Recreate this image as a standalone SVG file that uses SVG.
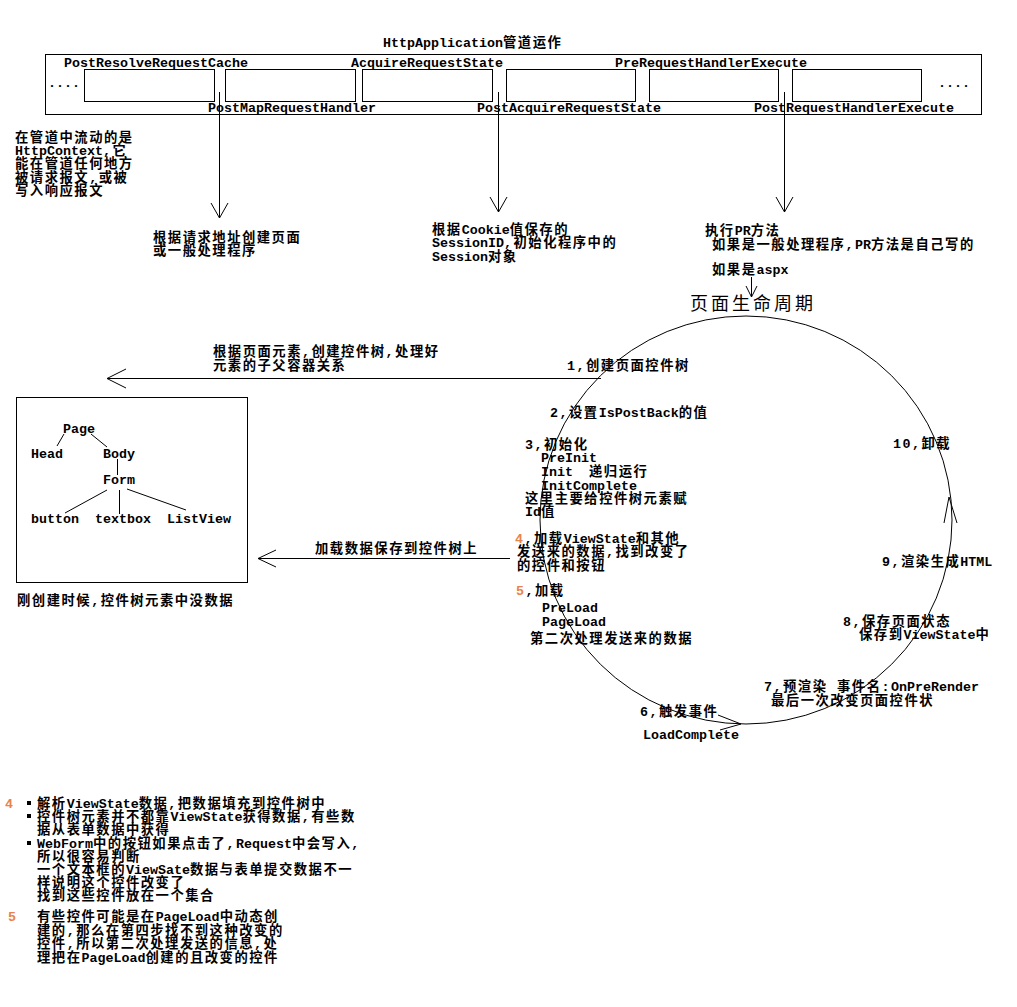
<svg xmlns="http://www.w3.org/2000/svg" width="1017" height="1007" viewBox="0 0 1017 1007">
<style>
.t{font-family:"Liberation Mono","Noto Sans CJK SC",monospace;font-size:13.33px;font-weight:bold;letter-spacing:1.5px;fill:#000}
.l{letter-spacing:0}
.o{fill:#e8834a}
.big{font-family:"Noto Sans CJK SC",sans-serif;font-size:18px;font-weight:normal;fill:#000}
.ln{stroke:#000;stroke-width:1;fill:none}
.box{stroke:#000;stroke-width:1;fill:#fff}
</style>
<rect width="1017" height="1007" fill="#fff"/>

<g id="pipeline">
<text class="t" x="383" y="47"><tspan class="l">HttpApplication</tspan>管道运作</text>
<rect class="box" x="45.5" y="54.5" width="936" height="60"/>
<g id="evt1"><rect class="box" x="84.5" y="69.5" width="130" height="32"/></g>
<g id="evt2"><rect class="box" x="225.5" y="69.5" width="130" height="32"/></g>
<g id="evt3"><rect class="box" x="362.5" y="69.5" width="130" height="32"/></g>
<g id="evt4"><rect class="box" x="506.5" y="69.5" width="129" height="32"/></g>
<g id="evt5"><rect class="box" x="649.5" y="69.5" width="129" height="32"/></g>
<g id="evt6"><rect class="box" x="792.5" y="69.5" width="129" height="32"/></g>
<text class="t l" x="48" y="87">....</text>
<text class="t l" x="938" y="87">....</text>
<text class="t l" x="64" y="67">PostResolveRequestCache</text>
<text class="t l" x="351" y="67">AcquireRequestState</text>
<text class="t l" x="615" y="67">PreRequestHandlerExecute</text>
<text class="t l" x="208" y="112">PostMapRequestHandler</text>
<text class="t l" x="477" y="112">PostAcquireRequestState</text>
<text class="t l" x="754" y="112">PostRequestHandlerExecute</text>
</g>

<g id="note-context">
<text class="t" x="15" y="142">在管道中流动的是</text>
<text class="t" x="15" y="155"><tspan class="l">HttpContext</tspan>,它</text>
<text class="t" x="15" y="168">能在管道任何地方</text>
<text class="t" x="15" y="182">被请求报文,或被</text>
<text class="t" x="15" y="195">写入响应报文</text>
</g>

<g id="note-map">
<text class="t" x="153" y="242">根据请求地址创建页面</text>
<text class="t" x="153" y="255">或一般处理程序</text>
</g>

<g id="note-session">
<text class="t" x="432" y="234">根据<tspan class="l">Cookie</tspan>值保存的</text>
<text class="t" x="432" y="247"><tspan class="l">SessionID</tspan>,初始化程序中的</text>
<text class="t" x="432" y="261"><tspan class="l">Session</tspan>对象</text>
</g>

<g id="note-pr">
<text class="t" x="705" y="235">执行<tspan class="l">PR</tspan>方法</text>
<text class="t" x="712" y="249">如果是一般处理程序,<tspan class="l">PR</tspan>方法是自己写的</text>
<text class="t" x="712" y="274">如果是<tspan class="l">aspx</tspan></text>
</g>

<g id="lifecycle">
<text class="big" x="690" y="310" textLength="123" lengthAdjust="spacing">页面生命周期</text>
<ellipse class="ln" cx="746" cy="520" rx="206" ry="204"/>
<polyline class="ln" points="944,523 949,497 957,523"/>
<polyline class="ln" points="718,715 741,724 720,730"/>
<text class="t" x="567" y="370">1,创建页面控件树</text>
<text class="t" x="550" y="417">2,设置<tspan class="l">IsPostBack</tspan>的值</text>
<text class="t" x="525" y="449">3,初始化</text>
<text class="t l" x="541" y="462">PreInit</text>
<text class="t" x="541" y="476" xml:space="preserve"><tspan class="l">Init  </tspan>递归运行</text>
<text class="t l" x="541" y="490">InitComplete</text>
<text class="t" x="525" y="503">这里主要给控件树元素赋</text>
<text class="t" x="525" y="516"><tspan class="l">Id</tspan>值</text>
<text class="t" x="515" y="543"><tspan class="o">4</tspan>,加载<tspan class="l">ViewState</tspan>和其他</text>
<text class="t" x="517" y="556">发送来的数据,找到改变了</text>
<text class="t" x="517" y="570">的控件和按钮</text>
<text class="t" x="516" y="595"><tspan class="o">5</tspan>,加载</text>
<text class="t l" x="542" y="612">PreLoad</text>
<text class="t l" x="542" y="626">PageLoad</text>
<text class="t" x="530" y="643">第二次处理发送来的数据</text>
<text class="t" x="640" y="716">6,触发事件</text>
<text class="t l" x="643" y="739">LoadComplete</text>
<text class="t" x="764" y="691">7,预渲染 事件名:<tspan class="l">OnPreRender</tspan></text>
<text class="t" x="771" y="705">最后一次改变页面控件状</text>
<text class="t" x="843" y="626">8,保存页面状态</text>
<text class="t" x="859" y="639">保存到<tspan class="l">ViewState</tspan>中</text>
<text class="t" x="882" y="566">9,渲染生成<tspan class="l">HTML</tspan></text>
<text class="t" x="893" y="448">10,卸载</text>
</g>

<g id="control-tree">
<rect class="box" x="16.5" y="397.5" width="231" height="185"/>
<text class="t l" x="63" y="433">Page</text>
<text class="t l" x="31" y="458">Head</text>
<text class="t l" x="103" y="458">Body</text>
<text class="t l" x="103" y="484">Form</text>
<text class="t l" x="31" y="523">button</text>
<text class="t l" x="95" y="523">textbox</text>
<text class="t l" x="167" y="523">ListView</text>
<g class="ln">
<line x1="64" y1="434" x2="57" y2="446"/>
<line x1="91" y1="434" x2="107" y2="447"/>
<line x1="117.5" y1="459" x2="117.5" y2="475"/>
<line x1="107" y1="490" x2="65" y2="513"/>
<line x1="119.5" y1="490" x2="119.5" y2="514"/>
<line x1="127" y1="489" x2="186" y2="510"/>
</g>
<text class="t" x="17" y="605">刚创建时候,控件树元素中没数据</text>
</g>

<g id="label-tree">
<text class="t" x="213" y="356">根据页面元素,创建控件树,处理好</text>
<text class="t" x="213" y="370">元素的子父容器关系</text>
</g>
<g id="label-load">
<text class="t" x="315" y="553">加载数据保存到控件树上</text>
</g>

<g id="notes-bottom">
<text class="t o" x="5" y="808">4</text>
<rect x="27" y="801" width="4" height="4" fill="#000"/>
<rect x="27" y="814" width="4" height="4" fill="#000"/>
<rect x="27" y="841" width="4" height="4" fill="#000"/>
<text class="t" x="37" y="808">解析<tspan class="l">ViewState</tspan>数据,把数据填充到控件树中</text>
<text class="t" x="37" y="821">控件树元素并不都靠<tspan class="l">ViewState</tspan>获得数据,有些数</text>
<text class="t" x="37" y="834">据从表单数据中获得</text>
<text class="t" x="37" y="848"><tspan class="l">WebForm</tspan>中的按钮如果点击了,<tspan class="l">Request</tspan>中会写入,</text>
<text class="t" x="37" y="861">所以很容易判断</text>
<text class="t" x="37" y="874">一个文本框的<tspan class="l">ViewSate</tspan>数据与表单提交数据不一</text>
<text class="t" x="37" y="887">样说明这个控件改变了</text>
<text class="t" x="37" y="900">找到这些控件放在一个集合</text>
<text class="t o" x="8" y="921">5</text>
<text class="t" x="37" y="921">有些控件可能是在<tspan class="l">PageLoad</tspan>中动态创</text>
<text class="t" x="37" y="935">建的,那么在第四步找不到这种改变的</text>
<text class="t" x="37" y="948">控件,所以第二次处理发送的信息,处</text>
<text class="t" x="37" y="962">理把在<tspan class="l">PageLoad</tspan>创建的且改变的控件</text>
</g>

<g id="connectors" class="ln">
<line x1="219.5" y1="92" x2="219.5" y2="218"/>
<polyline points="211,203 219.5,218 228,203"/>
<line x1="498.5" y1="92" x2="498.5" y2="212"/>
<polyline points="490,197 498.5,212 507,197"/>
<line x1="784.5" y1="92" x2="784.5" y2="212"/>
<polyline points="776,197 784.5,212 793,197"/>
<line x1="751.5" y1="277" x2="751.5" y2="297"/>
<polyline points="746,286 751.5,297 757,286"/>
<line x1="107" y1="378.5" x2="601" y2="378.5"/>
<polyline points="126,369 107,378.5 126,388"/>
<line x1="258" y1="558.5" x2="510" y2="558.5"/>
<polyline points="276,550 258,558.5 276,567"/>
</g>
</svg>
